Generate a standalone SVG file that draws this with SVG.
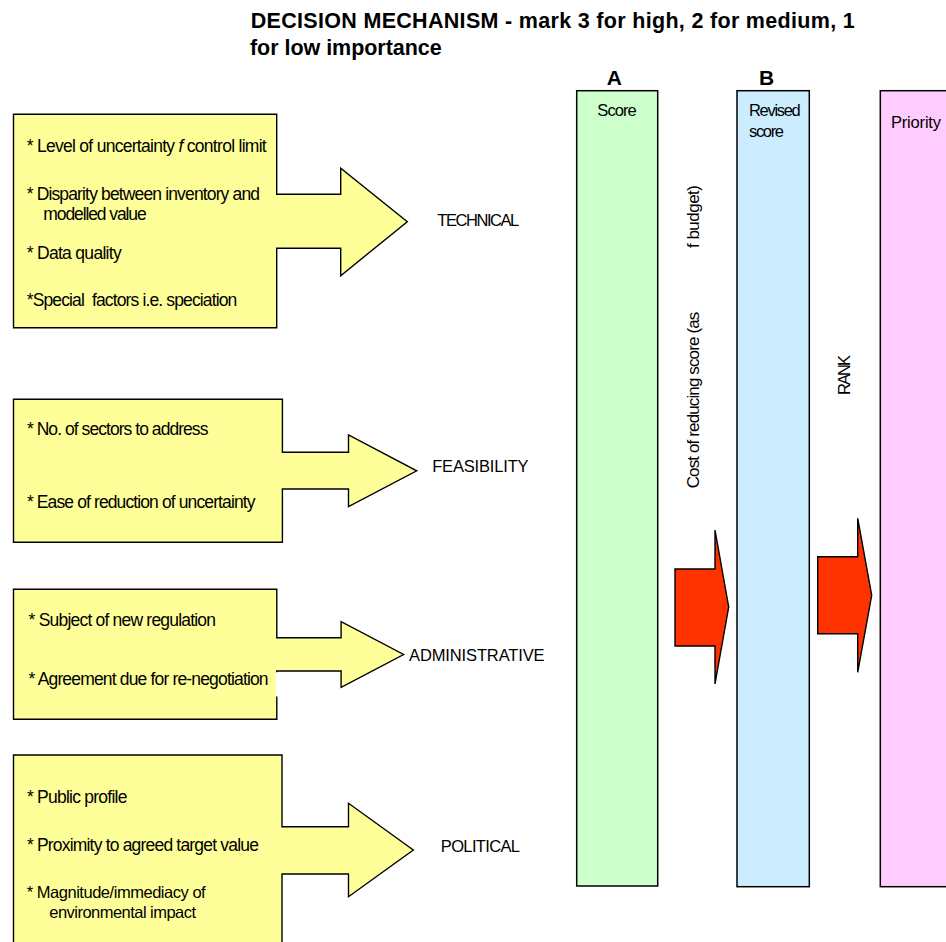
<svg xmlns="http://www.w3.org/2000/svg" width="946" height="942" viewBox="0 0 946 942">
<style>
  .box { fill: #FFFF99; stroke: #000; stroke-width: 1.4; stroke-linejoin: miter; }
  .col { stroke: #000; stroke-width: 1.5; }
  .red { fill: #FF3300; stroke: #000; stroke-width: 1.4; stroke-linejoin: miter; }
  .t { font-family: "Liberation Sans", Arial, sans-serif; font-size: 17.5px; fill: #000; }
  .ts { font-family: "Liberation Sans", Arial, sans-serif; font-size: 16.5px; fill: #000; }
  .lab { font-family: "Liberation Sans", Arial, sans-serif; font-size: 16.5px; fill: #000; }
  .col-t { font-family: "Liberation Sans", Arial, sans-serif; font-size: 16.5px; fill: #000; }
  .vt { font-family: "Liberation Sans", Arial, sans-serif; font-size: 17px; fill: #000; }
  .title { font-family: "Liberation Sans", Arial, sans-serif; font-size: 21.5px; font-weight: bold; fill: #000; }
  .ab { font-family: "Liberation Sans", Arial, sans-serif; font-size: 21px; font-weight: bold; fill: #000; }
</style>
<rect x="0" y="0" width="946" height="942" fill="#fff"/>

<g id="title">
  <text class="title" x="250.7" y="28" textLength="604">DECISION MECHANISM - mark 3 for high, 2 for medium, 1</text>
  <text class="title" x="250" y="55" textLength="191.7">for low importance</text>
</g>

<g id="technical">
  <path class="box" d="M13.5,114.3 H276.7 V194.3 H340.7 V168.3 L407.3,221.7 L340.7,275.7 V248.3 H276.7 V327.7 H13.5 Z"/>
  <text class="t" x="26.7" y="151.7" textLength="240">* Level of uncertainty <tspan font-style="italic">f</tspan> control limit</text>
  <text class="t" x="26.7" y="199.5" textLength="233.3">* Disparity between inventory and</text>
  <text class="t" x="43.3" y="219.8" textLength="103.4">modelled value</text>
  <text class="t" x="26.7" y="259" textLength="95">* Data quality</text>
  <text class="t" x="26.7" y="306" textLength="210.6" xml:space="preserve">*Special  factors i.e. speciation</text>
  <text class="lab" x="437.3" y="226" textLength="82">TECHNICAL</text>
</g>

<g id="feasibility">
  <path class="box" d="M13.5,399.3 H282.4 V452.3 H348.5 V435 L416.7,470.8 L348.5,506.7 V489 H282.4 V542.3 H13.5 Z"/>
  <text class="t" x="26.9" y="435" textLength="181.5">* No. of sectors to address</text>
  <text class="t" x="26.9" y="507.7" textLength="228.6">* Ease of reduction of uncertainty</text>
  <text class="lab" x="432.2" y="471.5" textLength="96.4">FEASIBILITY</text>
</g>

<g id="administrative">
  <path class="box" d="M13.5,589.3 H276.8 V637.7 H341.1 V621.7 L403.6,654.5 L341.1,687.3 V671 H276.8 V719.3 H13.5 Z"/>
  <rect x="275.8" y="672.2" width="2.6" height="24.3" fill="#fff"/>
  <text class="t" x="28.6" y="626" textLength="187.4">* Subject of new regulation</text>
  <text class="t" x="28.6" y="685" textLength="240">* Agreement due for re-negotiation</text>
  <text class="lab" x="409" y="660.5" textLength="135.6">ADMINISTRATIVE</text>
</g>

<g id="political">
  <path class="box" d="M13.5,755 H282 V826.7 H348.5 V803.3 L413.3,850 L348.5,896.7 V874 H282 V948 H13.5 Z"/>
  <text class="t" x="26.9" y="803.3" textLength="100.5">* Public profile</text>
  <text class="t" x="26.9" y="851" textLength="232">* Proximity to agreed target value</text>
  <text class="ts" x="26.7" y="897.8" textLength="179">* Magnitude/immediacy of</text>
  <text class="ts" x="49.3" y="917.5" textLength="146.7">environmental impact</text>
  <text class="lab" x="440.8" y="851.5" textLength="79.2">POLITICAL</text>
</g>

<g id="column-a">
  <text class="ab" x="606.7" y="85" textLength="16.6">A</text>
  <rect class="col" x="576.7" y="90.7" width="81" height="795.3" fill="#CCFFCC"/>
  <text class="col-t" x="597.3" y="116" textLength="39.4">Score</text>
</g>

<g id="column-b">
  <text class="ab" x="759" y="85" textLength="15.3">B</text>
  <rect class="col" x="737" y="90.7" width="72.3" height="796" fill="#CCECFF"/>
  <text class="col-t" x="749" y="116" textLength="51.7">Revised</text>
  <text class="col-t" x="749" y="136.7" textLength="35">score</text>
</g>

<g id="column-priority">
  <rect class="col" x="880.3" y="90.7" width="80" height="796" fill="#FFCCFF"/>
  <text class="col-t" x="891" y="128.3" textLength="50">Priority</text>
</g>

<g id="connectors">
  <g id="cost-arrow">
    <path class="red" d="M675,569 H715 V530 L728.7,607 L715,684 V646 H675 Z"/>
    <text class="vt" transform="translate(699,488.3) rotate(-90)"><tspan x="0" y="0" textLength="176.6">Cost of reducing score (as</tspan><tspan x="240.3" y="0" textLength="63">f budget)</tspan></text>
  </g>
  <g id="rank-arrow">
    <path class="red" d="M817.7,556.7 H857.7 V518.3 L871.7,595.3 L857.7,672.3 V633.7 H817.7 Z"/>
    <text class="lab" transform="translate(850,395) rotate(-90)" x="0" y="0" textLength="40">RANK</text>
  </g>
</g>
</svg>
